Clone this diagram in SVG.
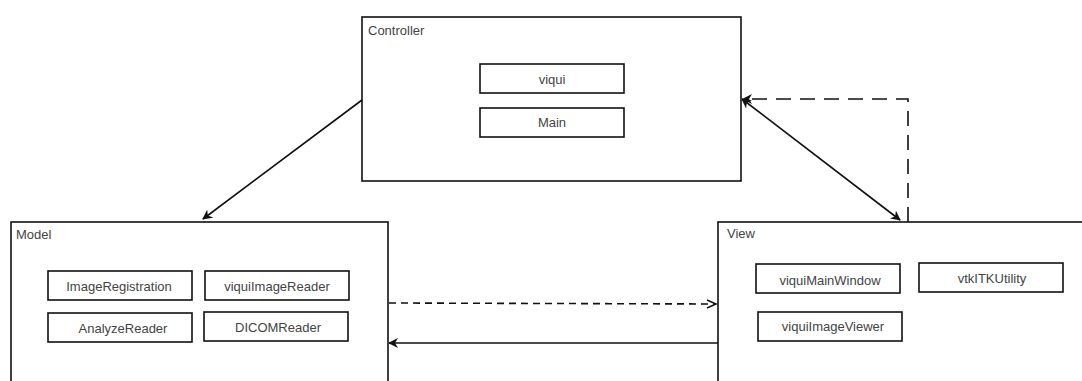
<svg xmlns="http://www.w3.org/2000/svg" width="1082" height="381" viewBox="0 0 1082 381">
<defs>
<style>
.frame{fill:#fff;stroke:#111;stroke-width:1.6}
.cls{fill:#fff;stroke:#111;stroke-width:1.6}
.t{font-family:"Liberation Sans",Arial,sans-serif;font-size:13px;fill:#444}
.c{text-anchor:middle}
.ln{fill:none;stroke:#111;stroke-width:1.6}
</style>
<marker id="fill" viewBox="0 0 10 10" refX="9" refY="5" markerWidth="10" markerHeight="10" markerUnits="userSpaceOnUse" orient="auto-start-reverse">
<path d="M0,0 L10,5 L0,10 L3,5 Z" fill="#111"/>
</marker>
<marker id="open" viewBox="0 0 10 10" refX="9" refY="5" markerWidth="12" markerHeight="10" markerUnits="userSpaceOnUse" orient="auto">
<path d="M0,1 L9,5 L0,9" fill="none" stroke="#111" stroke-width="1.5"/>
</marker>
</defs>
<rect width="1082" height="381" fill="#fff"/>
<g id="controller">
<rect class="frame" x="362" y="17" width="379" height="164"/>
<text class="t" x="368" y="35">Controller</text>
<rect class="cls" x="480" y="64" width="144" height="29"/>
<text class="t c" x="552" y="84">viqui</text>
<rect class="cls" x="480" y="108" width="144" height="29"/>
<text class="t c" x="552" y="127">Main</text>
</g>
<g id="model">
<rect class="frame" x="11" y="222" width="377" height="170"/>
<text class="t" x="16" y="239">Model</text>
<rect class="cls" x="48" y="271" width="144" height="29"/>
<text class="t c" x="119" y="291">ImageRegistration</text>
<rect class="cls" x="205" y="271" width="144" height="29"/>
<text class="t c" x="277" y="291">viquiImageReader</text>
<rect class="cls" x="48" y="313" width="144" height="29"/>
<text class="t c" x="123" y="333">AnalyzeReader</text>
<rect class="cls" x="204" y="312" width="144" height="29"/>
<text class="t c" x="278" y="332">DICOMReader</text>
</g>
<g id="view">
<rect class="frame" x="718" y="222" width="380" height="170"/>
<text class="t" x="727" y="238">View</text>
<rect class="cls" x="756" y="264" width="144" height="29"/>
<text class="t c" x="830" y="285">viquiMainWindow</text>
<rect class="cls" x="919" y="263" width="144" height="29"/>
<text class="t c" x="992" y="283">vtkITKUtility</text>
<rect class="cls" x="758" y="312" width="144" height="29"/>
<text class="t c" x="833" y="331">viquiImageViewer</text>
</g>
<g id="connectors">
<line class="ln" x1="362" y1="100" x2="203" y2="219" marker-end="url(#fill)"/>
<line class="ln" x1="742" y1="99" x2="900" y2="220" marker-start="url(#fill)" marker-end="url(#fill)"/>
<polyline class="ln" points="908,222 908,99 743,99" stroke-dasharray="15,9" marker-end="url(#fill)"/>
<line class="ln" x1="389" y1="303" x2="716" y2="304" stroke-dasharray="7,5" marker-end="url(#open)"/>
<line class="ln" x1="718" y1="343" x2="389" y2="343" marker-end="url(#fill)"/>
</g>
</svg>
